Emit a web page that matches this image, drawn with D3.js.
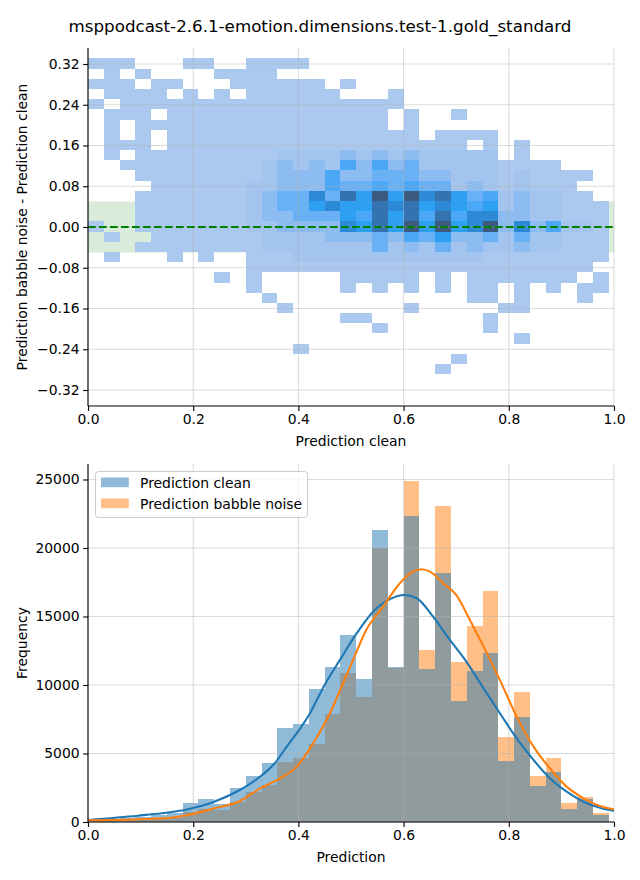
<!DOCTYPE html>
<html>
<head>
<meta charset="utf-8">
<script src="https://cdn.jsdelivr.net/npm/d3@7"></script>
<style>
  body { margin: 0; background: #fff; }
  svg { font-family: "DejaVu Sans", sans-serif; }
</style>
</head>
<body>
<div id="chart"></div>
<script>
const TITLE = "msppodcast-2.6.1-emotion.dimensions.test-1.gold_standard";

// ---- top panel: 2D histogram of (clean, noise - clean) ----
// x bins of 0.03 from 0, y bins of 0.02 from 0.331 downwards; one string per row,
// one char per x bin: "." = empty, 1..9 = shade level
const e = (n) => ".".repeat(n);   // run of empty bins
const o = (n) => "1".repeat(n);   // run of faint bins
const HEAT_X_START = 0;
const HEAT_X_STEP = 0.03;
const HEAT_Y_TOP = 0.331;
const HEAT_Y_STEP = 0.02;
const HEAT_ROWS = [
  "111...11..1111" + e(19),
  ".1.1....1111" + e(21),
  "111.11...111111.1" + e(16),
  ".1111.1.1.111111...1" + e(13),
  "1." + o(18) + e(13),
  ".111." + o(14) + ".1..1" + e(9),
  ".1.11" + o(14) + ".1" + e(12),
  ".1.1." + o(16) + ".1111" + e(7),
  ".111." + o(19) + ".1.1" + e(5),
  ".1." + o(9) + "222232323" + "22222" + ".1" + e(5),
  ".." + o(9) + "2323253534" + "22222" + "1111" + e(3),
  "..." + o(8) + "2333533444" + "33222" + "121111" + e(1),
  "...." + o(6) + "22333544545" + "44232" + "12111" + e(2),
  "..." + o(7) + "23447486969" + "78645" + "232211" + e(1),
  "..." + o(7) + "23446766878" + "67656" + "2322111",
  "..." + o(7) + "23344465868" + "58577" + "3322111",
  "1.." + o(7) + "22333376869" + "69679" + "3735221",
  ".1.." + o(6) + "12222333435" + "46334" + "2422111",
  "..." + o(7) + "12222222423" + "24232" + "2322111",
  ".1...1.1.." + "111" + "222222222222" + o(8),
  e(10) + o(22) + e(1),
  "........1.1....." + o(5) + ".1." + o(7) + ".1",
  "..........1....." + "1.1.1.1.11.1.1.11",
  e(11) + "1" + e(12) + "11.1...1.",
  e(12) + "1" + e(7) + "1" + e(5) + "11" + e(5),
  e(16) + "11" + e(7) + "1" + e(7),
  e(18) + "1" + e(6) + "1" + e(7),
  e(27) + "1" + e(5),
  e(13) + "1" + e(19),
  e(23) + "1" + e(9),
  e(22) + "1" + e(10)
];
const HEAT_LEVEL_COLORS = ["#abc9ef", "#a2c4ef", "#8cbcf1", "#6ab0f4", "#4aa8f6",
                           "#2f9ff2", "#2b89d6", "#3472b0", "#3b5a7e"];
const TOP_X_TICKS = [0, 0.2, 0.4, 0.6, 0.8, 1.0];
const TOP_Y_TICKS = [-0.32, -0.24, -0.16, -0.08, 0, 0.08, 0.16, 0.24, 0.32];
const BAND = [-0.05, 0.05];

// ---- bottom panel: histograms + kde ----
const HIST_STEP = 0.03;
const CLEAN_COUNTS = [150, 200, 270, 365, 490, 635, 1410, 1680, 1290, 2480, 3360,
  4300, 6860, 7150, 9710, 11290, 13650, 10440, 21320, 11300, 22340, 11170, 18180,
  8830, 11050, 12340, 4450, 7670, 2630, 3650, 950, 1680, 510];
const NOISE_COUNTS = [90, 120, 150, 220, 270, 315, 750, 925, 875, 1480, 2190,
  2720, 4380, 4690, 5690, 7880, 10900, 9150, 20020, 11250, 24890, 12560, 23070,
  11680, 14330, 16860, 6180, 9490, 3360, 4670, 1390, 1830, 660];
const CLEAN_KDE_X = [0, 0.095, 0.14, 0.19, 0.24, 0.285, 0.323, 0.355, 0.38, 0.397,
  0.422, 0.448, 0.479, 0.511, 0.542, 0.574, 0.601, 0.625, 0.656, 0.688, 0.717,
  0.752, 0.783, 0.815, 0.847, 0.878, 0.91, 0.942, 0.973, 1.0];
const CLEAN_KDE_Y = [150, 460, 635, 930, 1480, 2260, 3190, 4290, 5620, 6480,
  7940, 9880, 11830, 13780, 15350, 16270, 16570, 16330, 14990, 13290, 11830,
  9760, 7940, 6110, 4530, 3190, 2210, 1480, 1040, 830];
const NOISE_KDE_X = [0, 0.095, 0.152, 0.19, 0.24, 0.287, 0.327, 0.365, 0.397,
  0.428, 0.46, 0.485, 0.504, 0.529, 0.561, 0.593, 0.618, 0.634, 0.65, 0.675, 0.7,
  0.726, 0.752, 0.783, 0.815, 0.847, 0.878, 0.91, 0.942, 0.973, 1.0];
const NOISE_KDE_Y = [120, 200, 290, 510, 1000, 1500, 2450, 3190, 4040, 5750,
  7940, 10130, 11830, 14020, 15720, 17430, 18270, 18450, 18270, 17430, 16570,
  14750, 12800, 10370, 7690, 5500, 3920, 2580, 1730, 1170, 930];
const BOTTOM_X_TICKS = [0, 0.2, 0.4, 0.6, 0.8, 1.0];
const BOTTOM_Y_TICKS = [0, 5000, 10000, 15000, 20000, 25000];
const SERIES = [
  { label: "Prediction clean", color: "#1f77b4" },
  { label: "Prediction babble noise", color: "#ff7f0e" },
];

const W = 640, H = 880;
const FS = 13.9;
const svg = d3.select("#chart").append("svg").attr("width", W).attr("height", H);

svg.append("text")
  .attr("x", 320).attr("y", 32)
  .attr("text-anchor", "middle")
  .attr("font-size", 16.7)
  .text(TITLE);

const minus = (s) => s.replace("-", "\u2212");

function drawGrid(g, x, y, xTicks, yTicks, x0, x1, y0, y1) {
  const grid = g.append("g").attr("stroke", "#b0b0b0").attr("stroke-opacity", 0.45)
    .attr("stroke-width", 1.1);
  grid.selectAll("line.v").data(xTicks).enter().append("line")
    .attr("x1", d => x(d)).attr("x2", d => x(d)).attr("y1", y0).attr("y2", y1);
  grid.selectAll("line.h").data(yTicks).enter().append("line")
    .attr("x1", x0).attr("x2", x1).attr("y1", d => y(d)).attr("y2", d => y(d));
}

function drawAxes(g, x, y, xTicks, yTicks, xFmt, yFmt, y0, x0) {
  const ax = g.append("g").attr("transform", `translate(0,${y0})`)
    .call(d3.axisBottom(x).tickValues(xTicks).tickFormat(xFmt).tickSize(4.9).tickPadding(3.5));
  const ay = g.append("g").attr("transform", `translate(${x0},0)`)
    .call(d3.axisLeft(y).tickValues(yTicks).tickFormat(yFmt).tickSize(4.9).tickPadding(3.5));
  [ax, ay].forEach(a => {
    a.select(".domain").attr("stroke", "#000").attr("stroke-width", 1.1);
    a.selectAll(".tick line").attr("stroke", "#000").attr("stroke-width", 1.1);
    a.selectAll(".tick text").attr("font-size", FS).attr("fill", "#000")
      .attr("font-family", "DejaVu Sans");
  });
  ax.select(".domain").attr("d", `M${x.range()[0]},0H${x.range()[1]}`);
  ay.select(".domain").attr("d", `M0,${y.range()[0]}V${y.range()[1]}`);
}

// ================= TOP =================
const tL = 88, tR = 614, tT = 48, tB = 406;
const xT = d3.scaleLinear().domain([0, 1]).range([tL, tR]);
const yT = d3.scaleLinear().domain([-0.3514, 0.3514]).range([tB, tT]);
const heatColor = d3.scaleOrdinal().domain(d3.range(1, 10)).range(HEAT_LEVEL_COLORS);

const topG = svg.append("g");
topG.append("rect")
  .attr("x", tL).attr("width", tR - tL)
  .attr("y", yT(BAND[1])).attr("height", yT(BAND[0]) - yT(BAND[1]))
  .attr("fill", "#008000").attr("fill-opacity", 0.15);

const cells = [];
HEAT_ROWS.forEach((row, r) => {
  row.split("").forEach((ch, c) => {
    if (ch !== ".") cells.push({ r, c, level: +ch });
  });
});
topG.append("g").attr("shape-rendering", "crispEdges")
  .selectAll("rect").data(cells).enter().append("rect")
  .attr("x", d => xT(HEAT_X_START + d.c * HEAT_X_STEP))
  .attr("width", xT(HEAT_X_STEP) - xT(0))
  .attr("y", d => yT(HEAT_Y_TOP - d.r * HEAT_Y_STEP))
  .attr("height", yT(0) - yT(HEAT_Y_STEP))
  .attr("fill", d => heatColor(d.level));

drawGrid(topG, xT, yT, TOP_X_TICKS, TOP_Y_TICKS, tL, tR, tB, tT);

topG.append("line")
  .attr("x1", tL).attr("x2", tR).attr("y1", yT(0)).attr("y2", yT(0))
  .attr("stroke", "#008000").attr("stroke-width", 2.1)
  .attr("stroke-dasharray", "7.7,3.3");

drawAxes(topG, xT, yT, TOP_X_TICKS, TOP_Y_TICKS, d3.format(".1f"),
  d => minus(d3.format(".2f")(d)), tB, tL);

topG.append("text").attr("x", (tL + tR) / 2).attr("y", 446)
  .attr("text-anchor", "middle").attr("font-size", FS).text("Prediction clean");
topG.append("text")
  .attr("transform", `translate(22,${(tT + tB) / 2}) rotate(-90)`)
  .attr("text-anchor", "middle").attr("dominant-baseline", "central")
  .attr("font-size", FS).text("Prediction babble noise - Prediction clean");

// ================= BOTTOM =================
const bL = 88, bR = 614, bT = 464, bB = 822;
const xB = d3.scaleLinear().domain([0, 1]).range([bL, bR]);
const yB = d3.scaleLinear().domain([0, 26130]).range([bB, bT]);
const bottomG = svg.append("g");

const binsOf = (counts) => counts.map((v, i) => ({ x0: i * HIST_STEP, v }));
[[NOISE_COUNTS, SERIES[1].color], [CLEAN_COUNTS, SERIES[0].color]].forEach(([counts, col]) => {
  bottomG.append("g").attr("shape-rendering", "crispEdges")
    .selectAll("rect").data(binsOf(counts)).enter().append("rect")
    .attr("x", d => xB(d.x0))
    .attr("width", xB(HIST_STEP) - xB(0))
    .attr("y", d => yB(d.v))
    .attr("height", d => yB(0) - yB(d.v))
    .attr("fill", col).attr("fill-opacity", 0.5);
});

drawGrid(bottomG, xB, yB, BOTTOM_X_TICKS, BOTTOM_Y_TICKS, bL, bR, bB, bT);

const line = d3.line().x(d => xB(d[0])).y(d => yB(d[1])).curve(d3.curveMonotoneX);
[[CLEAN_KDE_X, CLEAN_KDE_Y, SERIES[0].color], [NOISE_KDE_X, NOISE_KDE_Y, SERIES[1].color]]
  .forEach(([xs, ys, col]) => {
    bottomG.append("path").datum(xs.map((x, i) => [x, ys[i]]))
      .attr("d", line).attr("fill", "none")
      .attr("stroke", col).attr("stroke-width", 2.1);
  });

drawAxes(bottomG, xB, yB, BOTTOM_X_TICKS, BOTTOM_Y_TICKS, d3.format(".1f"), d3.format("d"), bB, bL);

bottomG.append("text").attr("x", (bL + bR) / 2).attr("y", 862)
  .attr("text-anchor", "middle").attr("font-size", FS).text("Prediction");
bottomG.append("text")
  .attr("transform", `translate(22,${(bT + bB) / 2}) rotate(-90)`)
  .attr("text-anchor", "middle").attr("dominant-baseline", "central")
  .attr("font-size", FS).text("Frequency");

// legend
const legend = bottomG.append("g").attr("transform", "translate(95.5,471.5)");
legend.append("rect").attr("width", 212).attr("height", 46).attr("rx", 3)
  .attr("fill", "#fff").attr("fill-opacity", 0.8).attr("stroke", "#cccccc");
SERIES.forEach((s, i) => {
  const row = legend.append("g").attr("transform", `translate(0,${i * 21})`);
  row.append("rect").attr("x", 5.5).attr("y", 6).attr("width", 27.8).attr("height", 9.7)
    .attr("fill", s.color).attr("fill-opacity", 0.5);
  row.append("text").attr("x", 44.5).attr("y", 16.3)
    .attr("font-size", FS).text(s.label);
});
</script>
</body>
</html>
